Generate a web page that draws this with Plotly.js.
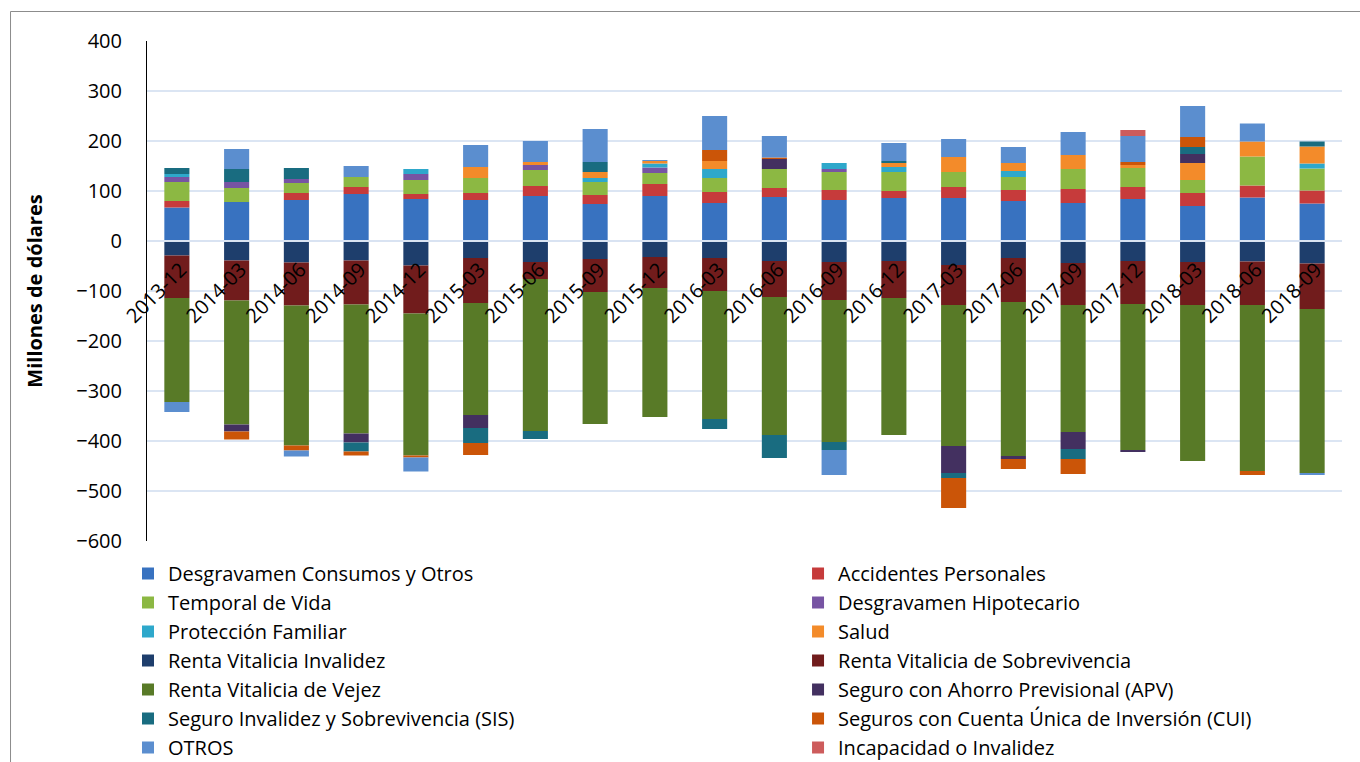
<!DOCTYPE html>
<html>
<head>
<meta charset="utf-8">
<script src="https://cdn.plot.ly/plotly-3.0.1.min.js"></script>
<style>html,body{margin:0;padding:0;background:#fff;}#chart{width:1360px;height:762px;}</style>
</head>
<body>
<div id="chart"></div>
<script>
var periods = ["2013-12","2014-03","2014-06","2014-09","2014-12","2015-03","2015-06","2015-09","2015-12","2016-03","2016-06","2016-09","2016-12","2017-03","2017-06","2017-09","2017-12","2018-03","2018-06","2018-09"];

var desgravamenConsumos = [67, 78, 82, 94, 84, 82, 90, 74, 90, 76, 88, 82, 86, 86, 80, 76, 84, 70, 87, 75];
var accidentesPersonales = [13, 0, 14, 14, 10, 14, 20, 18, 24, 22, 18, 20, 14, 22, 22, 28, 24, 26, 24, 26];
var temporalVida = [38, 28, 20, 20, 28, 30, 32, 26, 22, 28, 38, 36, 38, 30, 26, 40, 38, 26, 58, 44];
var desgravamenHipotecario = [10, 12, 8, 0, 12, 0, 10, 0, 11, 0, 0, 6, 0, 0, 0, 0, 0, 0, 0, 0];
var proteccionFamiliar = [6, 0, 0, 0, 10, 0, 0, 8, 8, 18, 0, 12, 10, 0, 12, 0, 0, 0, 0, 10];
var salud = [0, 0, 0, 0, 0, 22, 6, 12, 5, 16, 0, 0, 8, 30, 16, 28, 6, 34, 30, 34];
var rentaInvalidez = [-29, -39, -43, -39, -49, -34, -42, -36, -32, -34, -40, -42, -40, -48, -34, -44, -40, -42, -41, -45];
var rentaSobrevivencia = [-85, -80, -86, -88, -96, -90, -34, -66, -62, -66, -72, -76, -74, -80, -88, -84, -86, -86, -87, -91];
var rentaVejez = [-208, -248, -280, -258, -284, -224, -304, -264, -258, -256, -276, -284, -274, -282, -308, -254, -292, -312, -332, -328];
var apv = [0, -14, 0, -18, 0, -26, 0, 0, 0, 0, 20, 0, 0, -54, -6, -34, -4, 18, 0, 0];
var sis = [12, 26, 22, -18, 0, -30, -16, 20, 0, -20, -46, -16, 4, -10, 0, -20, 0, 14, 0, 10];
var cui = [0, -16, -10, -8, -4, -24, 0, 0, 0, 22, 3, 0, 0, -60, -20, -30, 6, 20, -8, 0];
var otros = [-20, 40, -12, 22, -28, 44, 42, 66, 2, 68, 43, -50, 36, 36, 32, 46, 52, 62, 36, -4];
var incapacidad = [0, 0, 0, 0, 0, 0, 0, 0, 0, 0, 0, 0, 0, 0, 0, 0, 12, 0, 0, 0];

var seriesNames = ["Desgravamen Consumos y Otros","Accidentes Personales","Temporal de Vida","Desgravamen Hipotecario","Protección Familiar","Salud","Renta Vitalicia Invalidez","Renta Vitalicia de Sobrevivencia","Renta Vitalicia de Vejez","Seguro con Ahorro Previsional (APV)","Seguro Invalidez y Sobrevivencia (SIS)","Seguros con Cuenta Única de Inversión (CUI)","OTROS","Incapacidad o Invalidez"];
var seriesValues = [desgravamenConsumos, accidentesPersonales, temporalVida, desgravamenHipotecario, proteccionFamiliar, salud, rentaInvalidez, rentaSobrevivencia, rentaVejez, apv, sis, cui, otros, incapacidad];
var seriesColors = ["#3872c0","#c63b3b","#8cb843","#7754a3","#2ea8cb","#f38b2a","#1e3e6c","#711c1c","#587a27","#433060","#196c80","#cb5508","#5b8ecf","#cd5c5c"];

var traces = seriesNames.map(function(name, i){
  return {
    type: "bar",
    name: name,
    x: periods,
    y: seriesValues[i],
    legend: (i % 2 === 0) ? "legend" : "legend2",
    marker: {color: seriesColors[i], line: {width: 0}}
  };
});

var FONT = "Open Sans, DejaVu Sans, sans-serif";
var legendBase = {
  orientation: "v",
  xanchor: "left",
  y: -0.026,
  yanchor: "top",
  traceorder: "normal",
  tracegroupgap: 0,
  font: {family: FONT, size: 20, color: "#000"},
  bgcolor: "rgba(0,0,0,0)",
  borderwidth: 0
};

var layout = {
  width: 1360,
  height: 762,
  margin: {l: 147, r: 18, t: 41, b: 221, pad: 0, autoexpand: false},
  paper_bgcolor: "#ffffff",
  plot_bgcolor: "#ffffff",
  barmode: "relative",
  bargap: 0.58,
  font: {family: FONT, size: 20, color: "#000"},
  showlegend: true,
  xaxis: {
    type: "category",
    anchor: "free",
    position: 0.6,
    tickangle: -45,
    showgrid: false,
    showline: true,
    linecolor: "#d9e3f2",
    linewidth: 2,
    ticks: "",
    ticklabelstandoff: 8,
    ticklabelshift: 4,
    tickfont: {family: FONT, size: 20, color: "#000"},
    zeroline: false
  },
  yaxis: {
    range: [-600, 400],
    dtick: 100,
    tick0: 0,
    showgrid: true,
    gridcolor: "#dbe5f3",
    gridwidth: 2,
    zeroline: false,
    showline: true,
    linecolor: "#000",
    linewidth: 1,
    ticks: "",
    ticklabelstandoff: 20,
    tickfont: {family: FONT, size: 20, color: "#000"},
    title: {text: "Millones de dólares", font: {family: FONT, size: 20, color: "#000", weight: "bold"}, standoff: 28}
  },
  legend: Object.assign({}, legendBase, {x: -0.0159}),
  legend2: Object.assign({}, legendBase, {x: 0.5448}),
  shapes: [
    {type: "rect", xref: "paper", yref: "paper", x0: -0.1142, x1: 1.05, y0: -0.6, y1: 1.059,
     line: {color: "#8c8c8c", width: 1}, fillcolor: "rgba(0,0,0,0)", layer: "above"}
  ]
};

Plotly.newPlot("chart", traces, layout, {displayModeBar: false, staticPlot: true});
</script>
</body>
</html>
